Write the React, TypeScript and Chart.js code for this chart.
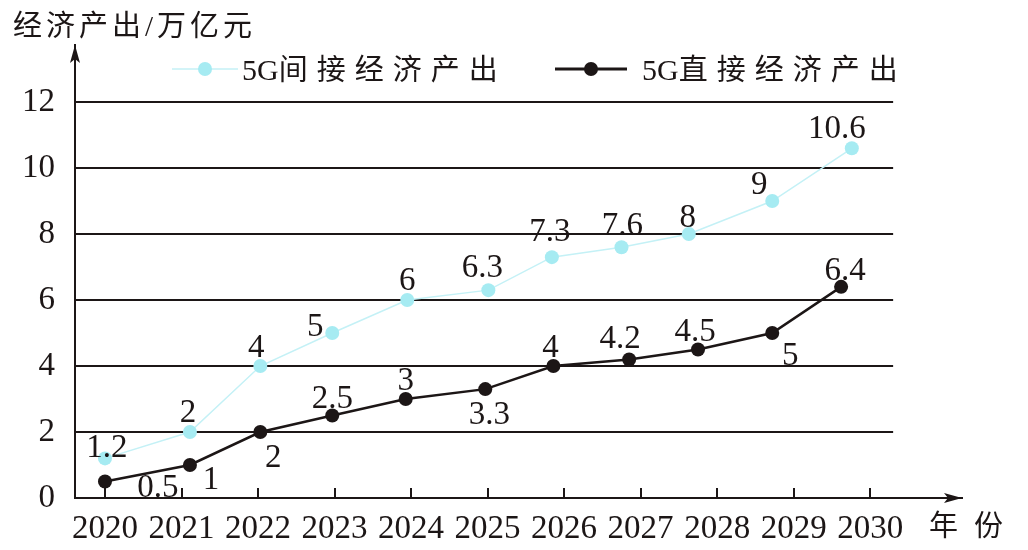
import React, { useEffect, useRef } from 'react';
import { Chart, registerables } from 'chart.js';

Chart.register(...registerables);

// years on the x axis and value ticks on the y axis
const years = [2020, 2021, 2022, 2023, 2024, 2025, 2026, 2027, 2028, 2029, 2030];
const yTicks = [0, 2, 4, 6, 8, 10, 12];

// 5G间接经济产出 (points sit a little off the year ticks in the original drawing)
const indirectX = [2020, 2021.11, 2022.03, 2022.97, 2023.95, 2025.01, 2025.84, 2026.75, 2027.63, 2028.72, 2029.76];
const indirectValues = [1.2, 2, 4, 5, 6, 6.3, 7.3, 7.6, 8, 9, 10.6];

// 5G直接经济产出
const directX = [2020, 2021.11, 2022.03, 2022.97, 2023.93, 2024.97, 2025.86, 2026.85, 2027.75, 2028.72, 2029.62];
const directValues = [0.5, 1, 2, 2.5, 3, 3.3, 4, 4.2, 4.5, 5, 6.4];

// where each value label sits relative to its point
const indirectLabelOffsets = [[2, -12], [-2, -21], [-4, -20], [-17, -8], [0, -21], [-6, -24], [-2, -27], [1, -23], [-1, -18], [-13, -18], [-15, -21]];
const directLabelOffsets = [[53, 4], [21, 13], [13, 24], [0, -19], [0, -20], [4, 24], [-3, -20], [-9, -22], [-3, -20], [18, 21], [4, -18]];

const FONT = "'Liberation Serif', 'Noto Sans CJK SC', serif";
const INK = '#1c1616';
const CYAN = '#a6ebf2';
const CYAN_LINE = '#c4f1f6';

const fmt = (v: number) => String(v);

const decorPlugin = {
    id: 'decor',
    beforeDatasetsDraw(chart: any) {
        const { ctx, chartArea, scales } = chart;
        const x = scales.x;
        const y = scales.y;
        ctx.save();
        ctx.strokeStyle = INK;
        ctx.lineWidth = 2;
        const gridEnd = x.getPixelForValue(2030.3);
        yTicks.slice(1).forEach(v => {
            const py = Math.round(y.getPixelForValue(v));
            ctx.beginPath();
            ctx.moveTo(chartArea.left, py);
            ctx.lineTo(gridEnd, py);
            ctx.stroke();
        });
        years.forEach(yr => {
            const px = Math.round(x.getPixelForValue(yr));
            ctx.beginPath();
            ctx.moveTo(px, chartArea.bottom);
            ctx.lineTo(px, chartArea.bottom - 10);
            ctx.stroke();
        });
        ctx.restore();
    },
    afterDraw(chart: any) {
        const { ctx, chartArea } = chart;
        ctx.save();
        ctx.fillStyle = INK;

        // axis arrows
        const ax = chartArea.left;
        const top = chartArea.top;
        ctx.beginPath();
        ctx.moveTo(ax, top);
        ctx.lineTo(ax - 5, top + 18);
        ctx.lineTo(ax, top + 14);
        ctx.lineTo(ax + 5, top + 18);
        ctx.closePath();
        ctx.fill();
        const ay = chartArea.bottom;
        const right = chartArea.right;
        ctx.beginPath();
        ctx.moveTo(right, ay);
        ctx.lineTo(right - 18, ay - 5);
        ctx.lineTo(right - 14, ay);
        ctx.lineTo(right - 18, ay + 5);
        ctx.closePath();
        ctx.fill();

        // value labels
        ctx.font = `33px ${FONT}`;
        ctx.textAlign = 'center';
        ctx.textBaseline = 'alphabetic';
        const sets = [
            { values: indirectValues, offsets: indirectLabelOffsets },
            { values: directValues, offsets: directLabelOffsets },
        ];
        sets.forEach((s, di) => {
            const meta = chart.getDatasetMeta(di);
            meta.data.forEach((pt: any, i: number) => {
                const [dx, dy] = s.offsets[i];
                ctx.fillText(fmt(s.values[i]), pt.x + dx, pt.y + dy + 11);
            });
        });

        // legend
        const legendItem = (x1: number, x2: number, cy: number, lineColor: string, lineWidth: number, dot: string, name: string, tx: number) => {
            ctx.strokeStyle = lineColor;
            ctx.lineWidth = lineWidth;
            ctx.beginPath();
            ctx.moveTo(x1, cy);
            ctx.lineTo(x2, cy);
            ctx.stroke();
            ctx.fillStyle = dot;
            ctx.beginPath();
            ctx.arc((x1 + x2) / 2, cy, 7, 0, Math.PI * 2);
            ctx.fill();
            ctx.fillStyle = INK;
            ctx.textAlign = 'left';
            ctx.font = `30px ${FONT}`;
            (ctx as any).letterSpacing = '0px';
            ctx.fillText('5G', tx, cy + 11);
            const w = ctx.measureText('5G').width;
            ctx.font = `29px ${FONT}`;
            (ctx as any).letterSpacing = '9px';
            ctx.fillText(name, tx + w, cy + 11);
            (ctx as any).letterSpacing = '0px';
        };
        legendItem(172, 238, 69, CYAN_LINE, 1.5, CYAN, '间接经济产出', 242);
        legendItem(555, 627, 69, INK, 3, INK, '直接经济产出', 642);

        // axis titles
        ctx.fillStyle = INK;
        ctx.textAlign = 'left';
        ctx.font = `29px ${FONT}`;
        (ctx as any).letterSpacing = '4px';
        ctx.fillText('经济产出/万亿元', 13, 36);
        ctx.font = `29px ${FONT}`;
        (ctx as any).letterSpacing = '16px';
        ctx.fillText('年份', 929, 536);
        (ctx as any).letterSpacing = '0px';
        ctx.restore();
    },
};

export default function App() {
    const canvasRef = useRef<HTMLCanvasElement>(null);
    const chartInstance = useRef<Chart | null>(null);

    useEffect(() => {
        document.body.style.margin = '0';
        if (!canvasRef.current) return;
        const ctx = canvasRef.current.getContext('2d');
        if (!ctx) return;

        chartInstance.current = new Chart(ctx, {
            type: 'line',
            data: {
                datasets: [
                    {
                        label: '5G间接经济产出',
                        data: indirectX.map((x, i) => ({ x, y: indirectValues[i] })),
                        borderColor: CYAN_LINE,
                        borderWidth: 1.5,
                        pointRadius: 7,
                        pointBorderWidth: 0,
                        pointBackgroundColor: CYAN,
                        tension: 0,
                        fill: false,
                    },
                    {
                        label: '5G直接经济产出',
                        data: directX.map((x, i) => ({ x, y: directValues[i] })),
                        borderColor: INK,
                        borderWidth: 2.5,
                        pointRadius: 7,
                        pointBorderWidth: 0,
                        pointBackgroundColor: INK,
                        tension: 0,
                        fill: false,
                    },
                ],
            },
            options: {
                responsive: false,
                animation: false,
                layout: { padding: { left: 0, top: 45, right: 66, bottom: 0 } },
                plugins: {
                    legend: { display: false },
                    tooltip: { enabled: false },
                },
                scales: {
                    x: {
                        type: 'linear',
                        min: 2019.608,
                        max: 2031.2,
                        afterBuildTicks: (s: any) => { s.ticks = years.map(v => ({ value: v })); },
                        afterFit: (s: any) => { s.height = 52; },
                        grid: { display: false },
                        border: { display: true, color: INK, width: 2 },
                        ticks: {
                            color: INK,
                            padding: 4,
                            maxRotation: 0,
                            autoSkip: false,
                            font: { family: FONT, size: 33 },
                            callback: (v: number | string) => String(v),
                        },
                    },
                    y: {
                        type: 'linear',
                        min: 0,
                        max: 13.73,
                        afterBuildTicks: (s: any) => { s.ticks = yTicks.map(v => ({ value: v })); },
                        afterFit: (s: any) => { s.width = 75; },
                        grid: { display: false },
                        border: { display: true, color: INK, width: 2 },
                        ticks: {
                            color: INK,
                            padding: 12,
                            font: { family: FONT, size: 33 },
                            callback: (v: number | string) => String(v),
                        },
                    },
                },
            },
            plugins: [decorPlugin],
        });

        return () => {
            if (chartInstance.current) chartInstance.current.destroy();
            chartInstance.current = null;
        };
    }, []);

    return (
        <div style={{ width: 1028, height: 550, background: '#fff' }}>
            <canvas ref={canvasRef} width={1028} height={550} />
        </div>
    );
}
